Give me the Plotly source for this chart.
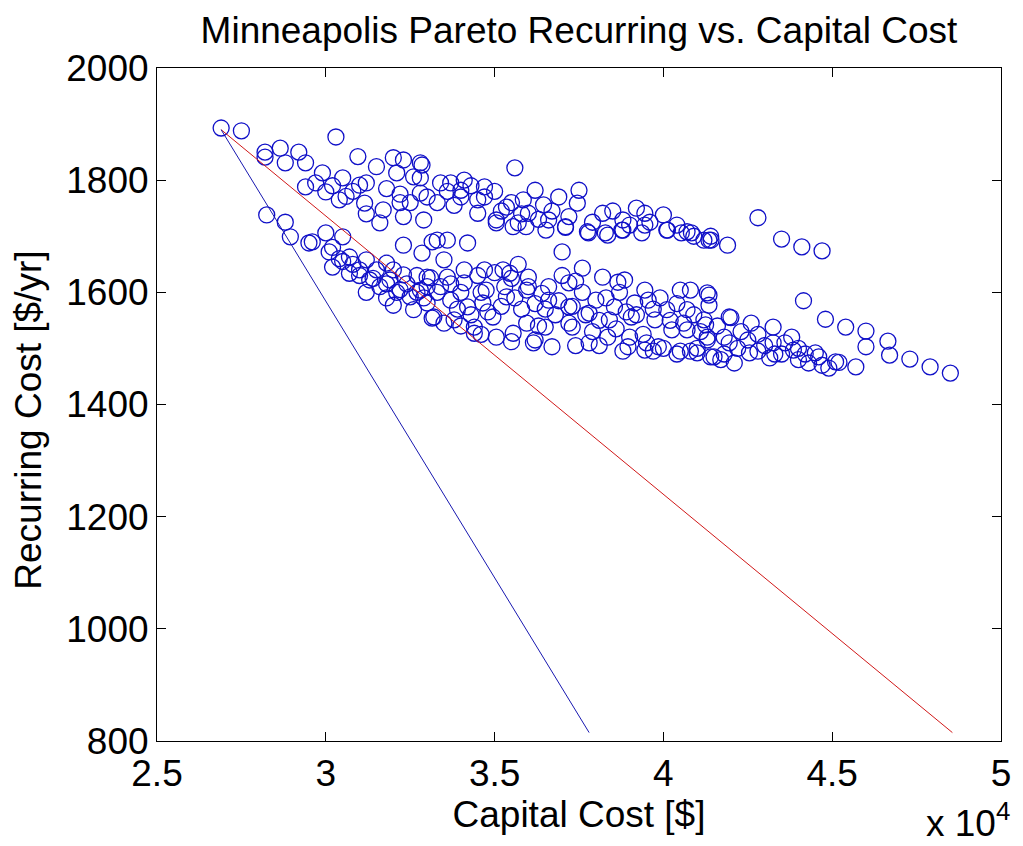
import plotly.graph_objects as go

# Capital cost in units of 10^4 $, recurring cost in $/yr
upper_x = [2.69, 2.75, 2.82, 2.82, 2.865, 2.92, 2.88, 2.94, 2.94, 2.99, 3.00, 3.05, 3.06, 3.10, 3.115,
           3.03, 3.095, 3.15, 3.20, 3.23, 3.21, 3.28, 3.26, 3.28, 3.17, 3.16, 3.23, 3.29, 3.285, 3.28,
           3.34, 3.37, 3.40, 3.41, 3.40, 3.47, 3.47, 3.45, 3.505, 3.535, 3.56, 3.585, 3.60, 3.62, 3.645,
           3.66, 3.69, 3.71, 3.75, 3.745, 3.775, 3.82, 3.835, 3.88, 3.88, 3.92, 3.945, 3.945, 4.00, 4.01,
           4.07, 4.12, 4.135, 4.19, 4.28, 4.35, 4.41, 4.47, 3.57, 3.505, 3.555, 3.593, 3.652, 3.71, 3.778,
           3.828, 3.877, 3.936, 4.012, 4.053, 4.083, 4.141,
           2.97, 3.02, 3.08, 3.12, 3.18, 3.22, 3.25, 3.30, 3.33, 3.36, 3.38, 3.43, 3.45, 3.50, 3.52,
           3.55, 3.58, 3.63, 3.67, 3.72, 3.79, 3.85, 3.90, 3.96, 4.04, 4.09, 4.14, 3.12, 3.22, 3.04]
upper_y = [1893, 1888, 1850, 1841, 1857, 1850, 1831, 1831, 1788, 1813, 1779, 1804, 1771, 1791, 1759,
           1877, 1842, 1824, 1840, 1836, 1813, 1831, 1806, 1777, 1747, 1724, 1735, 1729, 1827, 1804,
           1795, 1795, 1782, 1800, 1770, 1788, 1770, 1741, 1729, 1752, 1822, 1765, 1741, 1782, 1756,
           1729, 1770, 1716, 1782, 1759, 1708, 1741, 1702, 1729, 1711, 1750, 1741, 1720, 1738, 1711,
           1708, 1693, 1693, 1684, 1733, 1695, 1681, 1674, 1724, 1724, 1717, 1717, 1711, 1717, 1706,
           1706, 1711, 1706, 1711, 1706, 1706, 1693,
           1795, 1790, 1780, 1795, 1785, 1775, 1760, 1770, 1760, 1780, 1755, 1790, 1765, 1780, 1745,
           1760, 1740, 1730, 1745, 1735, 1725, 1745, 1720, 1725, 1720, 1700, 1700, 1740, 1760, 1765]

lower_x = [2.825, 2.88, 2.895, 2.95, 3.00, 3.05, 3.01, 3.02, 3.07, 3.07, 3.12, 3.13, 3.18, 3.19, 3.20,
           3.23, 3.25, 3.26, 3.30, 3.315, 3.23, 3.285, 3.315, 3.31, 3.33, 3.36, 3.42, 3.35, 3.70, 3.76,
           3.82, 3.865, 3.885, 3.945, 4.05, 4.08, 4.13, 3.30, 3.36, 3.41, 3.47, 3.525, 3.545, 3.60, 3.41,
           3.475, 3.535, 3.595, 3.66, 3.72, 3.66, 3.72, 3.78, 3.80, 3.84, 3.855, 3.905, 3.915, 3.955, 3.975,
           4.01, 4.025, 3.985, 4.07, 4.07, 4.12, 4.13, 4.14, 3.945, 3.895, 3.835, 3.78, 3.73, 3.67, 3.65,
           3.615, 3.595, 3.555, 3.505, 3.495, 3.44, 3.44, 3.38, 3.32, 3.30, 3.37, 3.42, 3.465, 3.28,
           4.415, 4.48, 4.54, 4.60, 4.665, 4.60, 4.67, 4.73, 4.79, 4.85, 4.57, 4.51, 4.49, 4.45, 4.43,
           4.38, 4.385, 4.325, 4.325, 4.315, 4.26, 4.255, 4.21, 4.195, 4.195, 4.15, 4.125, 4.13, 4.10, 4.135,
           4.135, 3.05, 3.10, 3.14, 3.18, 3.22, 3.27, 3.33, 3.40, 3.45, 3.50, 3.55, 3.60, 3.64, 3.69,
           3.73, 3.77, 3.81, 3.86, 3.90, 3.95, 4.00, 4.05, 4.10, 4.18, 4.22, 4.28, 4.35, 4.40,
           2.96, 3.02, 3.04, 3.08, 3.10, 3.15, 3.16, 3.20, 3.21, 3.24, 3.27, 3.29, 3.12, 3.18,
           3.34, 3.37, 3.39, 3.43, 3.46, 3.48, 3.52, 3.53, 3.56, 3.58, 3.57, 3.62, 3.63, 3.65, 3.68,
           3.70, 3.72, 3.74, 3.76, 3.79, 3.83, 3.87, 3.89, 3.92, 3.94, 3.97, 3.99, 4.02, 4.04, 4.06,
           4.09, 4.11, 4.16, 4.18, 4.20, 4.23, 4.25, 4.28, 4.30, 4.33, 4.36, 4.40, 4.42, 4.46, 4.47,
           4.52, 3.97, 4.04, 4.08, 4.17, 3.88, 3.81, 3.74, 3.62, 3.55, 3.46, 3.40, 3.35]
lower_y = [1738, 1725, 1699, 1688, 1706, 1699, 1672, 1645, 1663, 1634, 1658, 1622, 1652, 1622, 1577,
           1631, 1592, 1569, 1610, 1554, 1684, 1670, 1690, 1626, 1693, 1693, 1688, 1658, 1672, 1643,
           1627, 1618, 1622, 1604, 1604, 1604, 1599, 1627, 1627, 1640, 1640, 1640, 1634, 1627, 1617,
           1604, 1592, 1604, 1610, 1617, 1586, 1574, 1563, 1586, 1551, 1574, 1556, 1581, 1586, 1551,
           1569, 1533, 1503, 1569, 1533, 1551, 1520, 1485, 1497, 1503, 1520, 1510, 1538, 1503, 1538,
           1510, 1545, 1527, 1520, 1556, 1538, 1527, 1551, 1556, 1581, 1586, 1574, 1581, 1604,
           1585, 1552, 1538, 1531, 1513, 1503, 1488, 1481, 1467, 1456, 1467, 1476, 1465, 1492, 1474,
           1520, 1497, 1538, 1510, 1483, 1545, 1492, 1474, 1510, 1556, 1485, 1542, 1515, 1492, 1577,
           1595, 1655, 1640, 1625, 1615, 1605, 1600, 1600, 1600, 1630, 1635, 1625, 1610, 1598, 1585,
           1575, 1560, 1550, 1535, 1520, 1510, 1500, 1495, 1500, 1490, 1500, 1495, 1490, 1480,
           1690, 1680, 1660, 1650, 1630, 1640, 1610, 1640, 1600, 1615, 1630, 1590, 1600, 1590,
           1610, 1615, 1570, 1560, 1600, 1565, 1575, 1610, 1590, 1570, 1650, 1580, 1540, 1570, 1560,
           1630, 1545, 1620, 1600, 1530, 1590, 1600, 1565, 1560, 1525, 1570, 1590, 1550, 1580, 1545,
           1560, 1530, 1540, 1520, 1555, 1530, 1515, 1525, 1505, 1490, 1510, 1500, 1490, 1485, 1470,
           1475, 1495, 1490, 1495, 1480, 1495, 1505, 1505, 1515, 1512, 1525, 1540, 1545]

pts_x = upper_x + lower_x
pts_y = upper_y + lower_y

# straight reference lines (start / end points)
red_x = [2.69, 4.856]
red_y = [1890, 815]
blue_x = [2.69, 3.78]
blue_y = [1890, 815]

x_ticks = [2.5, 3, 3.5, 4, 4.5, 5]
x_ticktext = ["2.5", "3", "3.5", "4", "4.5", "5"]
y_ticks = [800, 1000, 1200, 1400, 1600, 1800, 2000]

FONT = "Liberation Sans, Arial, sans-serif"

fig = go.Figure()
fig.add_trace(go.Scatter(
    x=pts_x, y=pts_y, mode="markers",
    marker=dict(symbol="circle-open", size=16, color="#1010c8", line=dict(width=1.3)),
    showlegend=False))
fig.add_trace(go.Scatter(x=red_x, y=red_y, mode="lines",
                         line=dict(color="#d01818", width=1), showlegend=False))
fig.add_trace(go.Scatter(x=blue_x, y=blue_y, mode="lines",
                         line=dict(color="#1818b0", width=1), showlegend=False))

axis_common = dict(showline=True, linecolor="black", linewidth=1, mirror="ticks",
                   ticks="inside", ticklen=9, tickwidth=1, tickcolor="black",
                   showgrid=False, zeroline=False,
                   tickfont=dict(family=FONT, size=37, color="black"))

fig.update_layout(
    width=1023, height=846,
    margin=dict(l=157, r=13, t=68, b=105),
    paper_bgcolor="white", plot_bgcolor="white",
    font=dict(family=FONT, size=37, color="black"),
    title=dict(text="Minneapolis Pareto Recurring vs. Capital Cost",
               x=0.5, xref="paper", xanchor="center",
               y=1 - 30 / 846, yref="container", yanchor="middle",
               font=dict(family=FONT, size=37, color="black")),
    xaxis=dict(range=[2.5, 5], tickvals=x_ticks, ticktext=x_ticktext,
               title=dict(text="Capital Cost [$]", standoff=6,
                          font=dict(family=FONT, size=37, color="black")),
               **axis_common),
    yaxis=dict(range=[800, 2000], tickvals=y_ticks, **axis_common),
    annotations=[
        dict(text="Recurring Cost [$/yr]", textangle=-90, xref="paper", yref="paper",
             x=-0.152, y=0.477, xanchor="center", yanchor="middle", showarrow=False,
             font=dict(family=FONT, size=37, color="black")),
        dict(text="x 10<sup>4</sup>", xref="paper", yref="paper",
             x=1.013, y=-0.156, xanchor="right", yanchor="bottom", showarrow=False,
             font=dict(family=FONT, size=37, color="black")),
    ],
)

fig.write_html("out.html")
